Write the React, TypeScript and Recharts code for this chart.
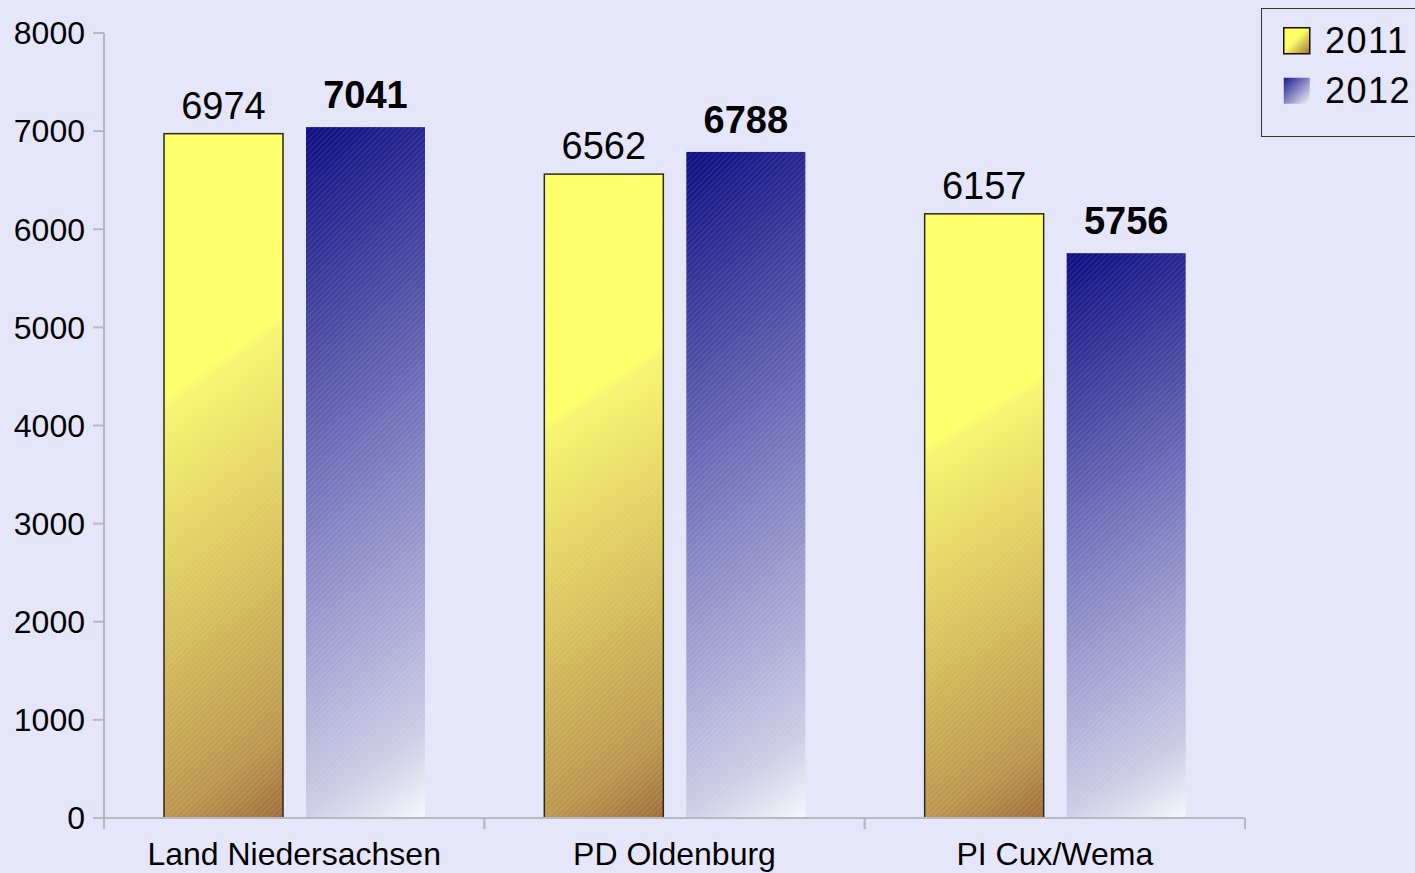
import React from 'react';
import { BarChart, Bar, XAxis, YAxis, LabelList, Legend } from 'recharts';

const categories = ['Land Niedersachsen', 'PD Oldenburg', 'PI Cux/Wema'];
const values2011 = [6974, 6562, 6157];
const values2012 = [7041, 6788, 5756];
const yTicks = [0, 1000, 2000, 3000, 4000, 5000, 6000, 7000, 8000];
const seriesNames = ['2011', '2012'];

const data = categories.map((name, i) => ({ name, y2011: values2011[i], y2012: values2012[i] }));

const FONT = '"Liberation Sans", Arial, sans-serif';
const BG = '#e6e6fb';
const AXIS = '#b8b8c0';

const makeShape = (grad: string, stroke: string | null) => (props: any) => {
  const { x, y, width, height } = props;
  return (
    <g>
      <rect x={x} y={y} width={width} height={height} fill={`url(#${grad})`} />
      <rect x={x} y={y} width={width} height={height} fill="url(#hatch)" />
      {stroke ? (
        <rect x={x} y={y} width={width} height={height} fill="none" stroke={stroke} strokeWidth={1.5} />
      ) : null}
    </g>
  );
};

const XTick = (props: any) => {
  const { x, y, payload } = props;
  const off = payload && payload.offset ? payload.offset : 190;
  return (
    <g>
      <line x1={x - off} y1={y} x2={x - off} y2={y + 11} stroke={AXIS} strokeWidth={2} />
      <line x1={x + off} y1={y} x2={x + off} y2={y + 11} stroke={AXIS} strokeWidth={2} />
      <text x={x} y={y + 47} textAnchor="middle" fontSize={32} fontFamily={FONT} fill="#000">
        {payload.value}
      </text>
    </g>
  );
};

const LegendContent = () => (
  <div
    style={{
      width: 170,
      height: 129,
      border: '1px solid #333',
      background: BG,
      boxSizing: 'border-box',
      position: 'relative',
      fontFamily: FONT,
    }}
  >
    {seriesNames.map((s, i) => (
      <div key={s} style={{ position: 'absolute', left: 21, top: 18 + i * 50, height: 27, display: 'flex', alignItems: 'center' }}>
        <svg width={28} height={28} style={{ display: 'block' }}>
          <rect
            x={0.75}
            y={0.75}
            width={26}
            height={26}
            fill={`url(#${i === 0 ? 'legY' : 'legB'})`}
            stroke={i === 0 ? '#111' : 'none'}
            strokeWidth={1.5}
          />
        </svg>
        <span style={{ marginLeft: 14, fontSize: 36, letterSpacing: 1.5, lineHeight: '27px', color: '#000' }}>{s}</span>
      </div>
    ))}
  </div>
);

export default function App() {
  return (
    <div style={{ position: 'absolute', left: 0, top: 0, width: 1415, height: 873, background: BG, overflow: 'hidden' }}>
      <svg width={0} height={0} style={{ position: 'absolute' }}>
        <defs>
          <linearGradient id="legY" x1="0" y1="0" x2="1" y2="1">
            <stop offset="0.45" stopColor="#ffff66" />
            <stop offset="1" stopColor="#a06e3c" />
          </linearGradient>
          <linearGradient id="legB" x1="0" y1="0" x2="1" y2="1">
            <stop offset="0" stopColor="#1a1a8a" />
            <stop offset="1" stopColor="#f4f4fa" />
          </linearGradient>
        </defs>
      </svg>
      <BarChart
        width={1415}
        height={873}
        data={data}
        margin={{ top: 33, right: 0, bottom: 0, left: 0 }}
        barSize={119}
        barGap={23}
        style={{ fontFamily: FONT }}
      >
        <defs>
          <linearGradient id="gradY" x1="0" y1="0" x2="0.1356" y2="1.106">
            <stop offset="0" stopColor="#ffff66" />
            <stop offset="0.343" stopColor="#ffff66" />
            <stop offset="0.36" stopColor="#f8f46e" />
            <stop offset="0.89" stopColor="#bb964c" />
            <stop offset="1" stopColor="#a06b3a" />
          </linearGradient>
          <linearGradient id="gradB" x1="0" y1="0" x2="0.1356" y2="1.106">
            <stop offset="0" stopColor="#0a0a80" />
            <stop offset="0.5" stopColor="#7a7abf" />
            <stop offset="0.89" stopColor="#cdcde6" />
            <stop offset="1" stopColor="#f6f6fb" />
          </linearGradient>
          <pattern id="hatch" patternUnits="userSpaceOnUse" width="4" height="4" patternTransform="rotate(45)">
            <line x1="1" y1="0" x2="1" y2="4" stroke="#ffffff" strokeOpacity={0.16} strokeWidth={1} />
          </pattern>
        </defs>
        <XAxis
          dataKey="name"
          height={55}
          tickSize={0}
          tickMargin={0}
          tickLine={false}
          axisLine={{ stroke: AXIS, strokeWidth: 2 }}
          tick={<XTick />}
          interval={0}
        />
        <YAxis
          width={104}
          domain={[0, 8000]}
          ticks={yTicks}
          interval={0}
          tickSize={11}
          tickMargin={8}
          axisLine={{ stroke: AXIS, strokeWidth: 2 }}
          tickLine={{ stroke: AXIS, strokeWidth: 2 }}
          tick={{ fontSize: 32, fill: '#000', fontFamily: FONT }}
        />
        <Legend
          layout="horizontal"
          verticalAlign="middle"
          align="right"
          content={<LegendContent />}
          wrapperStyle={{ left: 1261, top: 8, width: 170, height: 129 }}
        />
        <Bar dataKey="y2011" name="2011" isAnimationActive={false} shape={makeShape('gradY', '#2a2a1a')}>
          <LabelList dataKey="y2011" position="top" offset={15} style={{ fontSize: 38, fill: '#000', fontFamily: FONT }} />
        </Bar>
        <Bar dataKey="y2012" name="2012" isAnimationActive={false} shape={makeShape('gradB', null)}>
          <LabelList
            dataKey="y2012"
            position="top"
            offset={19}
            style={{ fontSize: 38, fill: '#000', fontWeight: 'bold', fontFamily: FONT }}
          />
        </Bar>
      </BarChart>
    </div>
  );
}
